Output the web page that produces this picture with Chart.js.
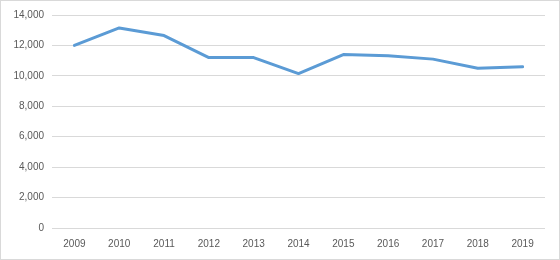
<!DOCTYPE html>
<html>
<head>
<meta charset="utf-8">
<script src="https://cdn.jsdelivr.net/npm/chart.js@4"></script>
<style>
html,body{margin:0;padding:0;background:#fff;}
#wrap{position:absolute;left:0;top:0;width:558px;height:258px;border:1px solid #d9d9d9;background:#fff;}
canvas{display:block;}
</style>
</head>
<body>
<div id="wrap"><canvas id="c" width="558" height="258"></canvas></div>
<script>
const categories = ["2009","2010","2011","2012","2013","2014","2015","2016","2017","2018","2019"];
const values = [12000, 13150, 12650, 11200, 11200, 10150, 11400, 11320, 11100, 10500, 10600];
const yMin = 0, yMax = 14000, yStep = 2000;

new Chart(document.getElementById('c'), {
  type: 'line',
  data: {
    labels: categories,
    datasets: [{
      data: values,
      borderColor: '#5B9BD5',
      borderWidth: 3,
      pointRadius: 0,
      tension: 0,
      borderCapStyle: 'round',
      borderJoinStyle: 'round',
      fill: false
    }]
  },
  options: {
    responsive: false,
    animation: false,
    devicePixelRatio: 1,
    layout: { padding: { top: 14, right: 14, bottom: 0, left: 0 } },
    plugins: { legend: { display: false }, tooltip: { enabled: false } },
    scales: {
      x: {
        offset: true,
        grid: { display: false, drawTicks: false },
        border: { display: false },
        ticks: { color: '#595959', font: { family: 'Liberation Sans', size: 10 }, padding: 10, maxRotation: 0 },
        afterFit: s => { s.height = 31; }
      },
      y: {
        min: yMin, max: yMax,
        grid: { color: '#d9d9d9', lineWidth: 1, drawTicks: false },
        border: { display: false },
        ticks: {
          stepSize: yStep,
          color: '#595959',
          font: { family: 'Liberation Sans', size: 10 },
          padding: 8,
          callback: v => v.toLocaleString('en-US')
        },
        afterFit: s => { s.width = 51; }
      }
    }
  }
});
</script>
</body>
</html>
